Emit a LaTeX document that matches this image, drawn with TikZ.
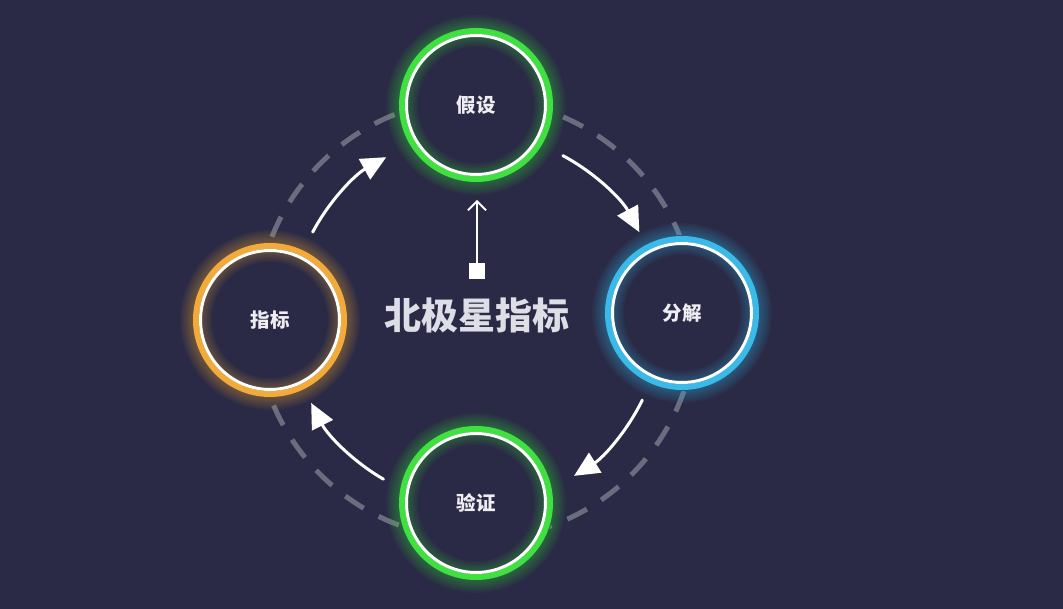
\documentclass[tikz,border=0pt]{standalone}
\usepackage{fontspec}
\newfontfamily\cjk{Noto Sans CJK SC}
\usetikzlibrary{arrows.meta}
\definecolor{bg}{RGB}{42,42,70}
\definecolor{dashc}{RGB}{108,108,128}
\definecolor{ringgreen}{RGB}{64,224,64}
\definecolor{ringorange}{RGB}{242,170,58}
\definecolor{ringblue}{RGB}{58,186,232}
\definecolor{lbl}{RGB}{238,238,242}
\definecolor{ctext}{RGB}{222,222,230}
\newcommand\glowring[2]{%
  \foreach \i in {1,...,10}{\draw[#2, opacity=0.04, line width=\i*2.6pt+6pt] (#1) circle (74);}
  \draw[#2, line width=6pt] (#1) circle (74);
  \draw[white, line width=3pt] (#1) circle (69.5);
}
\tikzset{
  stage/.style={circle, minimum size=156pt, inner sep=0pt, fill=bg, text=lbl,
    font=\cjk\bfseries\fontsize{19.5}{24}\selectfont},
  flow/.style={white, line width=3pt, line cap=round, -{Triangle[length=25pt,width=23pt]}},
  orbit/.style={dashc, line width=5pt, dash pattern=on 22pt off 17pt},
}
\begin{document}
\begin{tikzpicture}[x=1pt,y=1pt]
\fill[bg] (0,0) rectangle (1063,609);
\useasboundingbox (0,0) rectangle (1063,609);
\coordinate (c) at (476,290);
\draw[orbit] (c) circle (220);
% flow arrows
\draw[flow] ([shift={(152:185)}]c) arc[start angle=152, end angle=119, radius=185];
\draw[flow] ([shift={(62:185)}]c) arc[start angle=62, end angle=28, radius=185];
\draw[flow] ([shift={(-26:185)}]c) arc[start angle=-26, end angle=-58, radius=185];
\draw[flow] ([shift={(-120:185)}]c) arc[start angle=-120, end angle=-153, radius=185];
% stages
\node[stage] (hyp) at (476,504) {假设};
\glowring{hyp}{ringgreen}
\node[stage] (dec) at (682,296) {分解};
\glowring{dec}{ringblue}
\node[stage] (ver) at (476,106) {验证};
\glowring{ver}{ringgreen}
\node[stage] (met) at (270,289) {指标};
\glowring{met}{ringorange}
% center
\node[font=\cjk\bfseries\fontsize{37}{42}\selectfont, text=ctext] (title) at (477,294) {北极星指标};
\node[fill=white, minimum size=16pt, inner sep=0pt] (sq) at (477,338) {};
\coordinate (tip) at (477,409);
\draw[white, line width=1.8pt, -{Straight Barb[length=9pt,width=18pt]}] (sq.north) -- (tip);
\end{tikzpicture}
\end{document}
